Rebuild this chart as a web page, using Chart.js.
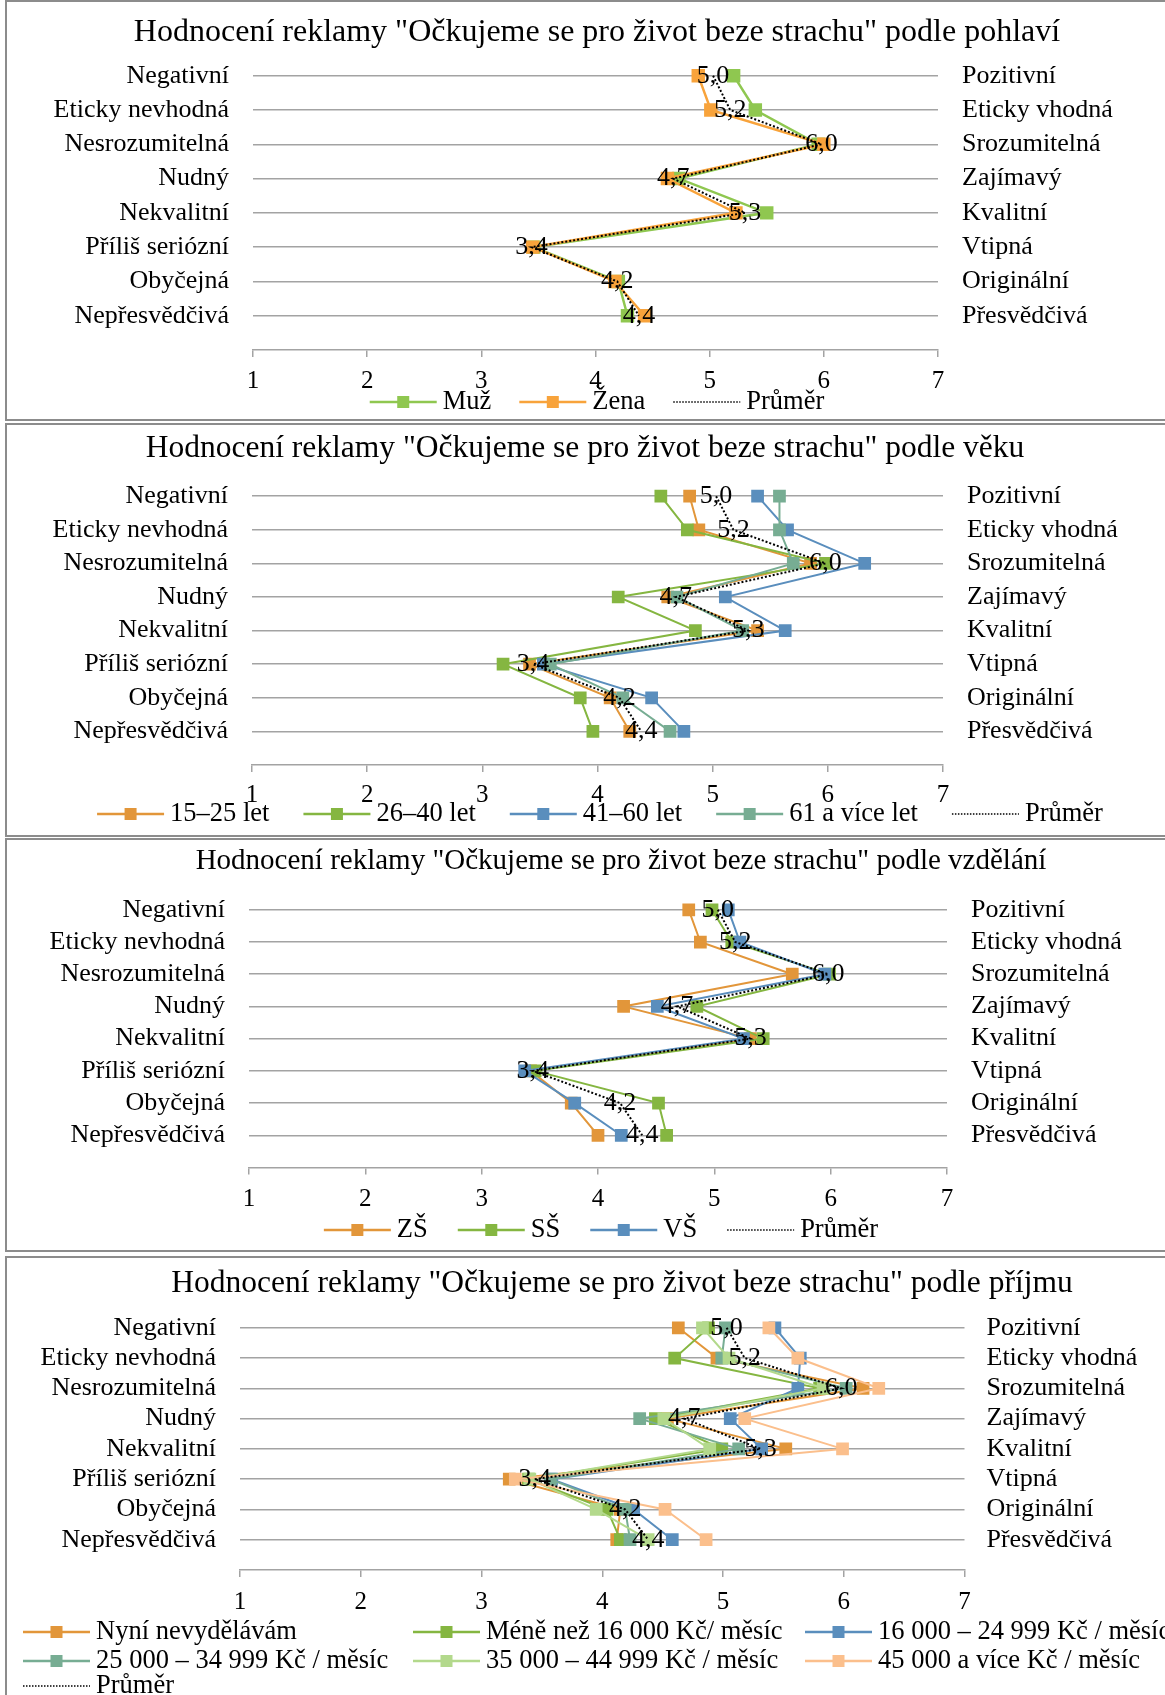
<!DOCTYPE html>
<html lang="cs">
<head>
<meta charset="utf-8">
<title>Hodnocení reklamy "Očkujeme se pro život beze strachu"</title>
<script src="https://cdn.jsdelivr.net/npm/chart.js@4.4.1/dist/chart.umd.min.js"></script>
<style>
    html, body { margin: 0; padding: 0; background: #fff; overflow: hidden; }
    body { width: 1165px; height: 1695px; position: relative; }
    .panel { position: absolute; left: 0; width: 1165px; }
    .panel canvas { position: absolute; left: 0; top: 0; }
    .frame { position: absolute; left: 5px; top: 0; width: 1200px; box-sizing: border-box; border: 2px solid #8c8c8c; }
</style>
</head>
<body>
<div class="panel" id="p1"><div class="frame"></div><canvas id="c1"></canvas></div>
<div class="panel" id="p2"><div class="frame"></div><canvas id="c2"></canvas></div>
<div class="panel" id="p3"><div class="frame"></div><canvas id="c3"></canvas></div>
<div class="panel" id="p4"><div class="frame"></div><canvas id="c4"></canvas></div>

<script>
// popisky os
const LEFT_LABELS = ['Negativní', 'Eticky nevhodná', 'Nesrozumitelná', 'Nudný', 'Nekvalitní', 'Příliš seriózní', 'Obyčejná', 'Nepřesvědčivá'];
const RIGHT_LABELS = ['Pozitivní', 'Eticky vhodná', 'Srozumitelná', 'Zajímavý', 'Kvalitní', 'Vtipná', 'Originální', 'Přesvědčivá'];
const X_MIN = 1;
const X_MAX = 7;

// průměr (stejný ve všech grafech)
const PRUMER = [5.03, 5.18, 5.98, 4.68, 5.31, 3.44, 4.19, 4.38];

// podle pohlaví
const POHLAVI_NAMES = ['Muž', 'Žena'];
const MUZ = [5.21, 5.40, 5.95, 4.73, 5.50, 3.46, 4.20, 4.28];
const ZENA = [4.90, 5.01, 6.00, 4.63, 5.23, 3.45, 4.17, 4.43];

// podle věku
const VEK_NAMES = ['15–25 let', '26–40 let', '41–60 let', '61 a více let'];
const VEK_15_25 = [4.80, 4.88, 5.85, 4.61, 5.39, 3.41, 4.11, 4.28];
const VEK_26_40 = [4.55, 4.78, 5.98, 4.18, 4.85, 3.18, 3.85, 3.96];
const VEK_41_60 = [5.39, 5.65, 6.32, 5.11, 5.63, 3.53, 4.47, 4.75];
const VEK_61 = [5.58, 5.58, 5.70, 4.69, 5.26, 3.59, 4.22, 4.63];

// podle vzdělání
const VZDELANI_NAMES = ['ZŠ', 'SŠ', 'VŠ'];
const ZS = [4.78, 4.88, 5.67, 4.22, 5.31, 3.42, 3.77, 4.00];
const SS = [4.98, 5.15, 5.99, 4.85, 5.42, 3.46, 4.52, 4.59];
const VS = [5.12, 5.22, 5.95, 4.51, 5.25, 3.37, 3.80, 4.20];

// podle příjmu
const PRIJEM_NAMES = ['Nyní nevydělávám', 'Méně než 16 000 Kč/ měsíc', '16 000 – 24 999 Kč / měsíc', '25 000 – 34 999 Kč / měsíc', '35 000 – 44 999 Kč / měsíc', '45 000 a více Kč / měsíc'];
const NYNI = [4.63, 4.95, 6.16, 4.54, 5.52, 3.23, 4.15, 4.12];
const MENE_16 = [4.88, 4.60, 5.80, 4.44, 4.99, 3.39, 4.04, 4.15];
const P16_25 = [5.43, 5.64, 5.62, 5.06, 5.32, 3.58, 4.26, 4.58];
const P25_35 = [5.02, 4.99, 6.02, 4.31, 5.13, 3.57, 4.19, 4.23];
const P35_45 = [4.83, 5.05, 5.83, 4.51, 4.89, 3.40, 3.95, 4.38];
const P45 = [5.38, 5.62, 6.29, 5.18, 5.99, 3.28, 4.52, 4.86];

const FONT = '"Liberation Serif", "Times New Roman", serif';
const GRID = '#a3a3a3';
const C_ORANGE = '#e2963a';
const C_GREEN = '#85b641';
const C_BLUE = '#5a8ebd';
const C_TEAL = '#77ad93';
const C_LGREEN = '#b3d98c';
const C_PEACH = '#fbbf8c';
const PAGE_W = 1165;
const X_AXIS_H = 50;

// titulek panelu
function makeTitlePlugin(t) {
    return {
        id: 'panelTitle',
        afterDraw(chart) {
            const ctx = chart.ctx;
            ctx.save();
            ctx.font = t.size + 'px ' + FONT;
            ctx.fillStyle = '#000';
            ctx.textAlign = 'center';
            ctx.textBaseline = 'middle';
            ctx.fillText(t.text, t.x, t.y);
            ctx.restore();
        }
    };
}

// hodnoty průměru
const valueLabelPlugin = {
    id: 'valueLabels',
    afterDatasetsDraw(chart) {
        const ctx = chart.ctx;
        chart.data.datasets.forEach((ds, i) => {
            if (!ds.showValues) return;
            const meta = chart.getDatasetMeta(i);
            ctx.save();
            ctx.font = '26px ' + FONT;
            ctx.fillStyle = '#000';
            ctx.textAlign = 'center';
            ctx.textBaseline = 'middle';
            meta.data.forEach((pt, j) => {
                const v = ds.data[j].x;
                ctx.fillText(v.toFixed(1).replace('.', ','), pt.x, pt.y);
            });
            ctx.restore();
        });
    }
};

// legenda s čárou a značkou
function makeLegendPlugin(lg) {
    function drawItem(ctx, it, x, y) {
        ctx.save();
        if (it.avg) {
            ctx.strokeStyle = '#000';
            ctx.lineWidth = 1.5;
            ctx.setLineDash([1.5, 1.5]);
        } else {
            ctx.strokeStyle = it.color;
            ctx.lineWidth = 2.5;
        }
        ctx.beginPath();
        ctx.moveTo(x, y);
        ctx.lineTo(x + lg.lineW, y);
        ctx.stroke();
        if (!it.avg) {
            ctx.fillStyle = it.color;
            ctx.fillRect(x + lg.lineW / 2 - 6, y - 6, 12, 12);
        }
        ctx.restore();
        ctx.fillStyle = '#000';
        ctx.fillText(it.text, x + lg.lineW + lg.gap, y);
    }
    return {
        id: 'lineLegend',
        afterDraw(chart) {
            const ctx = chart.ctx;
            ctx.save();
            ctx.font = lg.size + 'px ' + FONT;
            ctx.textAlign = 'left';
            ctx.textBaseline = 'middle';
            lg.rows.forEach((row, r) => {
                const y = lg.y[r];
                let xs;
                if (lg.colX) {
                    xs = lg.colX;
                } else {
                    const widths = row.map(k => lg.lineW + lg.gap + ctx.measureText(lg.items[k].text).width);
                    const total = widths.reduce((a, b) => a + b, 0) + lg.itemGap * (row.length - 1);
                    let x = lg.cx - total / 2;
                    xs = widths.map(w => { const s = x; x += w + lg.itemGap; return s; });
                }
                row.forEach((k, n) => drawItem(ctx, lg.items[k], xs[n], y));
            });
            ctx.restore();
        }
    };
}

function rowTicks(scale) {
    scale.ticks = LEFT_LABELS.map((_, i) => ({ value: i + 1 }));
}

function seriesDataset(name, values, color, order, lw, pr) {
    return {
        label: name,
        data: values.map((v, i) => ({ x: v, y: i + 1 })),
        borderColor: color,
        backgroundColor: color,
        borderWidth: lw,
        pointStyle: 'rect',
        pointRadius: pr,
        pointHoverRadius: pr,
        pointBorderWidth: 0,
        tension: 0,
        fill: false,
        order: order
    };
}

function avgDataset() {
    return {
        label: 'Průměr',
        data: PRUMER.map((v, i) => ({ x: v, y: i + 1 })),
        borderColor: '#000',
        backgroundColor: '#000',
        borderWidth: 2,
        borderDash: [2, 2],
        pointRadius: 0,
        pointHoverRadius: 0,
        tension: 0,
        fill: false,
        order: 0,
        showValues: true
    };
}

function makePanel(n, p) {
    const wrap = document.getElementById('p' + n);
    wrap.style.top = p.top + 'px';
    wrap.style.height = p.height + 'px';
    wrap.querySelector('.frame').style.height = p.height + 'px';
    const canvas = document.getElementById('c' + n);
    canvas.width = PAGE_W;
    canvas.height = p.height;

    const count = p.series.length;
    const datasets = p.series.map((s, i) => seriesDataset(s.name, s.values, s.color, count - i, p.lineW, p.pointR));
    datasets.push(avgDataset());

    const items = p.series.map(s => ({ text: s.name, color: s.color }));
    items.push({ text: 'Průměr', avg: true });

    const labelFont = { family: FONT, size: 26 };

    return new Chart(canvas, {
        type: 'line',
        data: { datasets: datasets },
        options: {
            responsive: false,
            animation: false,
            devicePixelRatio: 1,
            indexAxis: 'y',
            layout: {
                padding: {
                    top: p.plotTop - p.top,
                    bottom: p.height - (p.plotBottom - p.top) - X_AXIS_H,
                    left: 0,
                    right: 0
                }
            },
            plugins: {
                legend: { display: false },
                tooltip: { enabled: false },
                title: { display: false }
            },
            scales: {
                x: {
                    type: 'linear',
                    min: X_MIN,
                    max: X_MAX,
                    ticks: { stepSize: 1, color: '#000', font: { family: FONT, size: 25 }, padding: p.tickPad, maxRotation: 0 },
                    grid: { drawOnChartArea: false, drawTicks: true, tickLength: 7, color: GRID, lineWidth: 1.5 },
                    border: { color: GRID, width: 1.5 },
                    afterFit: s => { s.height = X_AXIS_H; }
                },
                y: {
                    type: 'linear',
                    position: 'left',
                    min: 0,
                    max: 9,
                    reverse: true,
                    afterBuildTicks: rowTicks,
                    ticks: { autoSkip: false, color: '#000', font: labelFont, padding: 24, callback: v => LEFT_LABELS[v - 1] || '' },
                    grid: { drawTicks: false, color: GRID, lineWidth: 1.5 },
                    border: { display: false },
                    afterFit: s => { s.width = p.plotLeft; }
                },
                y2: {
                    type: 'linear',
                    position: 'right',
                    min: 0,
                    max: 9,
                    reverse: true,
                    afterBuildTicks: rowTicks,
                    ticks: { autoSkip: false, color: '#000', font: labelFont, padding: p.rightPad, callback: v => RIGHT_LABELS[v - 1] || '' },
                    grid: { display: false, drawTicks: false },
                    border: { display: false },
                    afterFit: s => { s.width = PAGE_W - p.plotRight; }
                }
            }
        },
        plugins: [
            makeTitlePlugin({ text: p.title, x: p.titleX, y: p.titleY - p.top, size: p.titleSize }),
            valueLabelPlugin,
            makeLegendPlugin({
                items: items,
                rows: p.legendRows,
                y: p.legendY.map(v => v - p.top),
                cx: p.legendCx,
                colX: p.legendColX,
                lineW: 67,
                gap: 6,
                itemGap: p.itemGap,
                size: 26.5
            })
        ]
    });
}

makePanel(1, {
    top: 0, height: 421,
    plotLeft: 253, plotRight: 938, plotTop: 41.4, plotBottom: 350,
    title: 'Hodnocení reklamy "Očkujeme se pro život beze strachu" podle pohlaví',
    titleX: 597, titleY: 33, titleSize: 32,
    tickPad: 9, rightPad: 24, lineW: 2.5, pointR: 9.5,
    series: [
        { name: POHLAVI_NAMES[0], values: MUZ, color: '#8fc750' },
        { name: POHLAVI_NAMES[1], values: ZENA, color: '#f8a33b' }
    ],
    legendRows: [[0, 1, 2]], legendY: [402], legendCx: 597, legendColX: null, itemGap: 28
});

makePanel(2, {
    top: 423, height: 414,
    plotLeft: 252, plotRight: 943, plotTop: 455, plotBottom: 765,
    title: 'Hodnocení reklamy "Očkujeme se pro život beze strachu" podle věku',
    titleX: 585, titleY: 448.5, titleSize: 31.5,
    tickPad: 8, rightPad: 24, lineW: 2, pointR: 9,
    series: [
        { name: VEK_NAMES[0], values: VEK_15_25, color: C_ORANGE },
        { name: VEK_NAMES[1], values: VEK_26_40, color: C_GREEN },
        { name: VEK_NAMES[2], values: VEK_41_60, color: C_BLUE },
        { name: VEK_NAMES[3], values: VEK_61, color: C_TEAL }
    ],
    legendRows: [[0, 1, 2, 3, 4]], legendY: [814], legendCx: 600, legendColX: null, itemGap: 34
});

makePanel(3, {
    top: 838, height: 414,
    plotLeft: 249, plotRight: 947, plotTop: 873, plotBottom: 1167.5,
    title: 'Hodnocení reklamy "Očkujeme se pro život beze strachu" podle vzdělání',
    titleX: 621, titleY: 861, titleSize: 29,
    tickPad: 10, rightPad: 24, lineW: 2, pointR: 9,
    series: [
        { name: VZDELANI_NAMES[0], values: ZS, color: C_ORANGE },
        { name: VZDELANI_NAMES[1], values: SS, color: C_GREEN },
        { name: VZDELANI_NAMES[2], values: VS, color: C_BLUE }
    ],
    legendRows: [[0, 1, 2, 3]], legendY: [1230], legendCx: 601, legendColX: null, itemGap: 30
});

makePanel(4, {
    top: 1256, height: 460,
    plotLeft: 240, plotRight: 964.5, plotTop: 1297.5, plotBottom: 1570,
    title: 'Hodnocení reklamy "Očkujeme se pro život beze strachu" podle příjmu',
    titleX: 622, titleY: 1284, titleSize: 31.5,
    tickPad: 10, rightPad: 22, lineW: 2, pointR: 9,
    series: [
        { name: PRIJEM_NAMES[0], values: NYNI, color: C_ORANGE },
        { name: PRIJEM_NAMES[1], values: MENE_16, color: C_GREEN },
        { name: PRIJEM_NAMES[2], values: P16_25, color: C_BLUE },
        { name: PRIJEM_NAMES[3], values: P25_35, color: C_TEAL },
        { name: PRIJEM_NAMES[4], values: P35_45, color: C_LGREEN },
        { name: PRIJEM_NAMES[5], values: P45, color: C_PEACH }
    ],
    legendRows: [[0, 1, 2], [3, 4, 5], [6]], legendY: [1632, 1661, 1686], legendCx: 0, legendColX: [23, 413, 805], itemGap: 28
});
</script>
</body>
</html>
